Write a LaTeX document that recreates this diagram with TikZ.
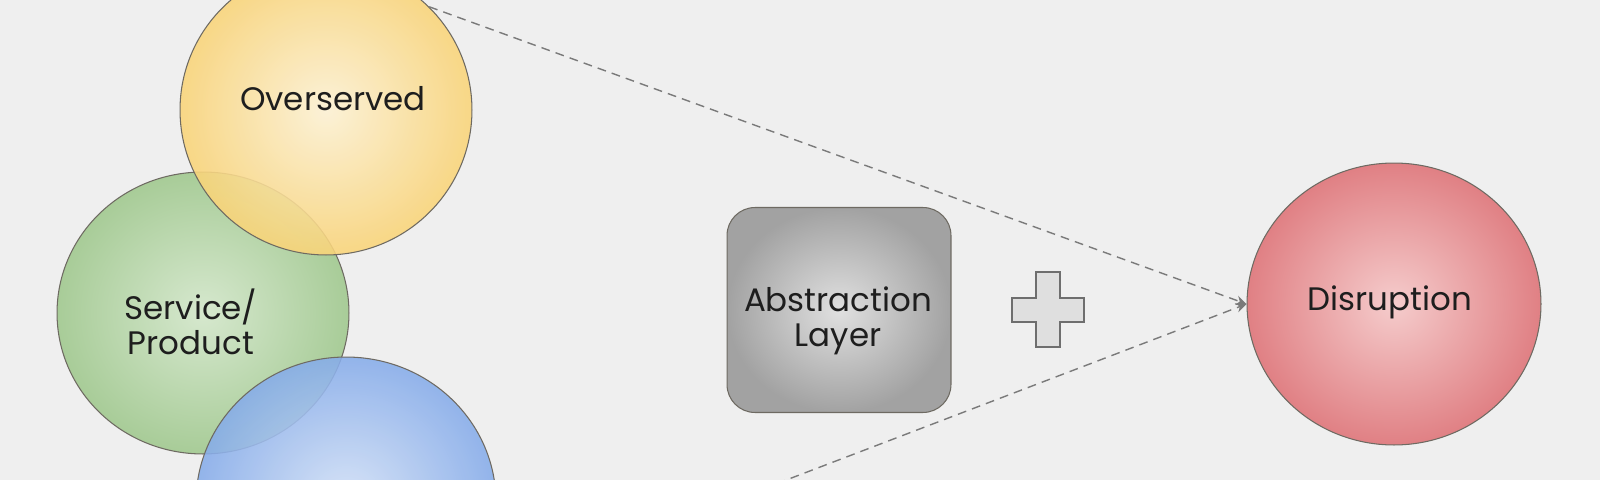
\documentclass[tikz,border=0pt]{standalone}
\usepackage{fontspec}
\setmainfont{Poppins}
\usepackage{tikz}
\usetikzlibrary{positioning, shapes.geometric, arrows.meta}

\definecolor{bgcol}{HTML}{EFEFEF}
\definecolor{txtcol}{HTML}{1E1E1E}
\definecolor{linecol}{HTML}{6E6A62}
\definecolor{dashcol}{HTML}{7A7A7A}

\tikzset{
  blob/.style={ellipse, draw=linecol, line width=0.6pt},
  txt/.style={align=center, text=txtcol, font=\fontsize{18.5}{20}\selectfont},
  plusbox/.style={draw=dashcol!90!black, fill=gray!25, line width=0.6pt},
  link/.style={draw=dashcol, dashed, dash pattern=on 5pt off 3.5pt, line width=0.8pt,
    -{Stealth[length=6pt, width=5.5pt]}}
}

\begin{document}
\begin{tikzpicture}[x=0.02cm, y=-0.02cm]
  \clip (0,0) rectangle (1600,480);
  \fill[bgcol] (0,0) rectangle (1600,480);

   \node[blob, minimum width=5.84cm, minimum height=5.64cm,
     inner color={rgb,255:red,214;green,232;blue,206}, outer color={rgb,255:red,168;green,204;blue,152}]
     (serv) at (203,313) {};
    \node[blob, minimum width=5.84cm, minimum height=5.8cm, fill opacity=0.88,
     inner color={rgb,255:red,253;green,242;blue,212}, outer color={rgb,255:red,250;green,212;blue,120}]
     (over) at (326,110) {};
    \node[blob, minimum width=6cm, minimum height=5.8cm, fill opacity=0.88,
     inner color={rgb,255:red,212;green,226;blue,248}, outer color={rgb,255:red,134;green,172;blue,234}]
     (under) at (346,502) {};

        \node[draw=linecol, line width=0.6pt, rounded corners=0.56cm,
      minimum width=4.48cm, minimum height=4.1cm,
      inner color={rgb,255:red,224;green,224;blue,224}, outer color={rgb,255:red,162;green,162;blue,162}]
      (abs) at (839,310) {};

    \node[blob, minimum width=5.88cm, minimum height=5.64cm,
     inner color={rgb,255:red,245;green,204;blue,204}, outer color={rgb,255:red,224;green,128;blue,132}]
     (dis) at (1394,304) {};

    % labels
    \node[txt] (overtxt) at (333,99) {Overserved};
    \node[txt] (servtxt) at (191,322) {Service/\\Product};
    \node[txt] (abstxt) at (838,321) {Abstraction\\Layer};
    \node[txt] (distxt) at (1390,302) {Disruption};

    % plus sign
    \draw[plusbox] (1036,272) -- (1060,272) -- (1060,298) -- (1084,298) -- (1084,322)
      -- (1060,322) -- (1060,347) -- (1036,347) -- (1036,322) -- (1012,322)
      -- (1012,298) -- (1036,298) -- cycle;

    \coordinate (low) at (679,521);

    \path (over.45) edge[link] (dis.west);
    \path (low) edge[link] (dis.west);

\end{tikzpicture}
\end{document}
